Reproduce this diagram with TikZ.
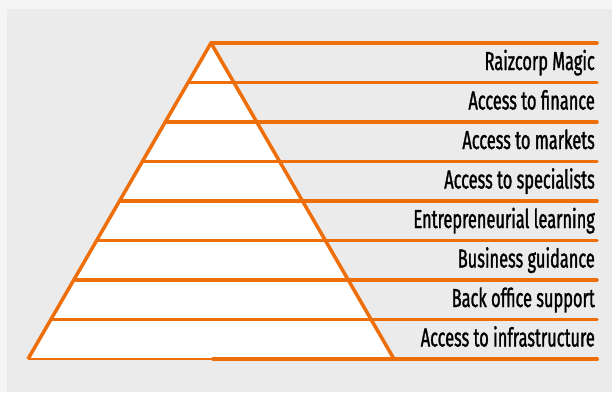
\documentclass[tikz,border=0pt]{standalone}
\usepackage{fontspec}
\setmainfont{Fira Sans}[FakeStretch=0.63,FakeBold=1.2]
\usepackage{tikz}
\usetikzlibrary{calc,positioning}
\definecolor{pyrorange}{RGB}{238,110,10}
\definecolor{outergray}{RGB}{245,245,245}
\definecolor{innergray}{RGB}{235,235,235}
\tikzset{
    level line/.style={
        draw=pyrorange,line width=3.5pt,line cap=round
    },
    level label/.style={
        anchor=base east,inner sep=0pt,
        font=\fontsize{26}{26}\selectfont
    }
}

\begin{document}
\begin{tikzpicture}[x=1pt,y=-1pt]
\fill[outergray] (0,0) rectangle (612,392);
\fill[innergray] (7,9) rectangle (612,392);
\useasboundingbox (0,0) rectangle (612,392);
\coordinate (apex) at (211,43);
\coordinate (base_l) at (28,359);
\coordinate (base_r) at (394,359);
\coordinate (base_m) at (213,359);
\fill[white] (apex) -- (base_l) -- (base_r) -- cycle;
\draw[pyrorange,line width=2.5pt] (base_l) -- (base_m);
\foreach \k/\name in {0/Raizcorp Magic,1/Access to finance,2/Access to markets,3/Access to specialists,4/Entrepreneurial learning,5/Business guidance,6/Back office support,7/Access to infrastructure}{
    \coordinate (lvl_\k) at ($(apex)!\k/8!(base_l)$);
    \coordinate (end_\k) at (597,{43+39.5*\k});
    \draw[level line] (lvl_\k) -- (end_\k);
    \node[level label] (label_\k) at (595,{70+39.5*\k}) {\name};
}
\coordinate (end_8) at (597,359);
\draw[level line,line width=4pt] (base_m) -- (end_8);
\draw[level line,line cap=butt,line join=round] (base_l) -- (apex) -- (base_r);
\end{tikzpicture}
\end{document}
